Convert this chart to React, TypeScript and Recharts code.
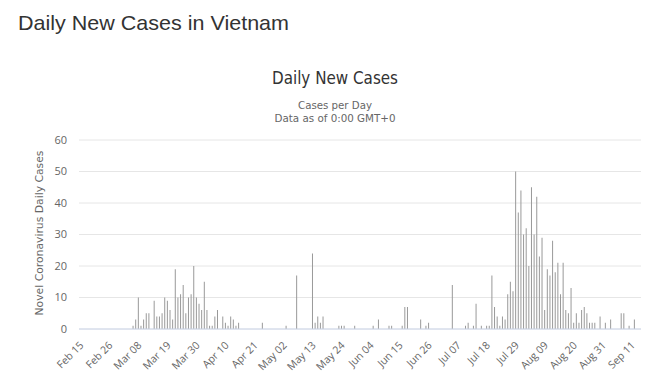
import { Bar, BarChart, CartesianGrid, XAxis, YAxis } from "recharts";

// daily new cases, Feb 15 -> Sep 14
const febCases = [0, 0, 0, 0, 0, 0, 0, 0, 0, 0, 0, 0, 0, 0, 0];
const marCases = [0, 0, 0, 0, 0, 1, 3, 10, 1, 3, 5, 5, 0, 9, 4, 4, 5, 10, 9, 6, 3, 19, 10, 11, 14, 5, 10, 11, 20, 10, 8];
const aprCases = [6, 15, 6, 1, 1, 4, 6, 0, 4, 2, 1, 4, 3, 1, 2, 0, 0, 0, 0, 0, 0, 0, 0, 2, 0, 0, 0, 0, 0, 0];
const mayCases = [0, 0, 1, 0, 0, 0, 17, 0, 0, 0, 0, 0, 24, 2, 4, 2, 4, 0, 0, 0, 0, 0, 1, 1, 1, 0, 0, 0, 1, 0, 0];
const junCases = [0, 0, 0, 0, 1, 0, 3, 0, 0, 0, 1, 1, 0, 0, 0, 1, 7, 7, 0, 0, 0, 0, 3, 0, 1, 2, 0, 0, 0, 0];
const julCases = [0, 0, 0, 0, 14, 0, 0, 0, 0, 1, 2, 0, 1, 8, 0, 1, 0, 1, 1, 17, 7, 4, 1, 4, 3, 11, 15, 12, 50, 37, 44];
const augCases = [30, 32, 20, 45, 30, 42, 23, 29, 6, 19, 17, 28, 18, 21, 11, 21, 6, 5, 13, 2, 5, 2, 6, 7, 5, 2, 2, 2, 0, 4, 0];
const sepCases = [2, 0, 3, 0, 0, 0, 5, 5, 0, 1, 0, 3, 0, 0];

const cases = [...febCases, ...marCases, ...aprCases, ...mayCases, ...junCases, ...julCases, ...augCases, ...sepCases];

const monthNames = ["Feb", "Mar", "Apr", "May", "Jun", "Jul", "Aug", "Sep"];
const monthDays = [29, 31, 30, 31, 30, 31, 31, 30];

const tickLabels = [
  "Feb 15", "Feb 26", "Mar 08", "Mar 19", "Mar 30", "Apr 10", "Apr 21",
  "May 02", "May 13", "May 24", "Jun 04", "Jun 15", "Jun 26", "Jul 07",
  "Jul 18", "Jul 29", "Aug 09", "Aug 20", "Aug 31", "Sep 11",
];
const yTicks = [0, 10, 20, 30, 40, 50, 60];

function buildDates(count: number) {
  const out: string[] = [];
  let m = 0;
  let d = 15;
  while (out.length < count) {
    out.push(`${monthNames[m]} ${String(d).padStart(2, "0")}`);
    d++;
    if (d > monthDays[m]) {
      m++;
      d = 1;
    }
  }
  return out;
}

const dates = buildDates(cases.length);
const data = dates.map((date, i) => ({ date, cases: cases[i] }));

const DateTick = (props: any) => {
  const { x, y, payload } = props;
  return (
    <text
      transform={`translate(${x + 4},${y + 17}) rotate(-45)`}
      textAnchor="end"
      fill="#666"
      fontSize={10.5}
      fontFamily="Open Sans"
    >
      {payload.value}
    </text>
  );
};

export default function App() {
  return (
    <div style={{ position: "absolute", left: 0, top: 0, width: 652, height: 384, background: "#fff" }}>
      <BarChart
        width={652}
        height={384}
        data={data}
        margin={{ top: 140, right: 11, bottom: 0, left: 0 }}
        barCategoryGap="30%"
      >
        <CartesianGrid vertical={false} stroke="#e6e6e6" />
        <XAxis
          dataKey="date"
          ticks={tickLabels}
          interval={0}
          height={55}
          tickLine={false}
          tickSize={0}
          tickMargin={0}
          axisLine={{ stroke: "#ccd6eb" }}
          tick={<DateTick />}
        />
        <YAxis
          width={79}
          domain={[0, 60]}
          ticks={yTicks}
          axisLine={false}
          tickLine={false}
          tickSize={0}
          tickMargin={12}
          tick={{ fill: "#666", fontSize: 11, fontFamily: "Open Sans" }}
        />
        <Bar dataKey="cases" fill="#999" isAnimationActive={false} />
      </BarChart>

      <svg
        width={652}
        height={384}
        style={{ position: "absolute", left: 0, top: 0, pointerEvents: "none" }}
      >
        <text x={18} y={30} fontFamily="Liberation Sans, Arial" fontSize={21} fill="#333"
          textLength={271} lengthAdjust="spacingAndGlyphs">
          Daily New Cases in Vietnam
        </text>
        <text x={335} y={84} textAnchor="middle" fontFamily="DejaVu Sans" fontSize={17} fill="#333"
          textLength={126} lengthAdjust="spacingAndGlyphs">
          Daily New Cases
        </text>
        <text x={335} y={109} textAnchor="middle" fontFamily="DejaVu Sans" fontSize={11} fill="#666"
          textLength={74} lengthAdjust="spacingAndGlyphs">
          Cases per Day
        </text>
        <text x={335} y={121.5} textAnchor="middle" fontFamily="DejaVu Sans" fontSize={11} fill="#666"
          textLength={121} lengthAdjust="spacingAndGlyphs">
          Data as of 0:00 GMT+0
        </text>
        <text transform="translate(42.5,233) rotate(-90)" textAnchor="middle" fontFamily="DejaVu Sans"
          fontSize={11} fill="#666" textLength={165} lengthAdjust="spacingAndGlyphs">
          Novel Coronavirus Daily Cases
        </text>
      </svg>
    </div>
  );
}
